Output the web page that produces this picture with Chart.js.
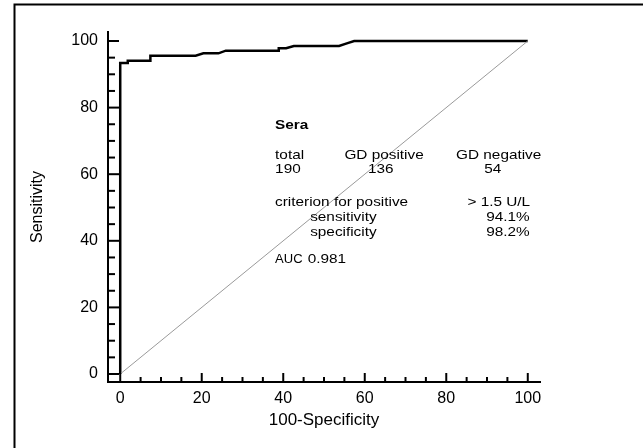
<!DOCTYPE html>
<html>
<head>
<meta charset="utf-8">
<script src="https://cdn.jsdelivr.net/npm/chart.js@4"></script>
<style>
  html, body { margin: 0; padding: 0; background: #fff; }
</style>
</head>
<body>
<canvas id="roc" width="643" height="448"></canvas>
<script>
// ================= DATA =================
// ROC curve, 100-specificity (x) vs sensitivity (y), in %
const rocX = [0, 0, 1.85, 1.85, 7.4, 7.4, 18.5, 20.4, 24.1, 25.9, 38.9, 38.9, 40.7, 42.6, 53.7, 55.6, 57.4, 100];
const rocY = [0, 93.4, 93.4, 94.1, 94.1, 95.6, 95.6, 96.3, 96.3, 97.1, 97.1, 97.8, 97.8, 98.5, 98.5, 99.3, 100, 100];

// reference diagonal
const refX = [0, 100];
const refY = [0, 100];

const tickValues = [0, 20, 40, 60, 80, 100];
const minorStep = 5;

// text block
const noteTitle = "Sera";
const noteHeader = ["total", "GD positive", "GD negative"];
const noteCounts = ["190", "136", "54"];
const criterionLabels = ["criterion for positive", "sensitivity", "specificity"];
const criterionValues = ["> 1.5 U/L", "94.1%", "98.2%"];
const aucLabel = "AUC";
const aucValue = "0.981";

// ================= PLACEMENT (data units) =================
const FONT = '"Liberation Sans", Arial, sans-serif';
const headerCols = [38, 55, 82.4];
const countCols = [38, 60.8, 89.3];
const critCols = [38, 46.6, 46.6];
const critRows = [51.6, 47.1, 42.4];

const notes = [{ t: noteTitle, x: 38, y: 74.7, bold: true }];
noteHeader.forEach((t, i) => notes.push({ t, x: headerCols[i], y: 65.7 }));
noteCounts.forEach((t, i) => notes.push({ t, x: countCols[i], y: 61.5 }));
criterionLabels.forEach((t, i) => notes.push({ t, x: critCols[i], y: critRows[i] }));
criterionValues.forEach((t, i) => notes.push({ t, x: i === 0 ? 85.2 : 89.8, y: critRows[i] }));
notes.push({ t: aucLabel, x: 38, y: 34.5, sx: 1.0 });
notes.push({ t: aucValue, x: 46, y: 34.5 });

// ================= PLUGIN =================
const moldura = {
  id: "moldura",
  beforeDraw(chart) {
    const ctx = chart.ctx;
    ctx.save();
    ctx.strokeStyle = "#000";
    ctx.lineWidth = 2;
    ctx.beginPath();
    ctx.moveTo(14.5, 460);
    ctx.lineTo(14.5, 4.5);
    ctx.lineTo(660, 4.5);
    ctx.stroke();
    ctx.restore();
  },
  afterDraw(chart) {
    const { ctx, scales: { x, y } } = chart;
    ctx.save();
    ctx.strokeStyle = "#000";
    ctx.lineWidth = 2;
    for (let v = 0; v <= 100; v += minorStep) {
      const major = tickValues.includes(v);
      const px = x.getPixelForValue(v);
      ctx.beginPath();
      ctx.moveTo(px, x.top);
      ctx.lineTo(px, x.top - (major ? 9 : 5));
      ctx.stroke();
      const py = y.getPixelForValue(v);
      ctx.beginPath();
      ctx.moveTo(y.right, py);
      ctx.lineTo(y.right + (major ? 11 : 7), py);
      ctx.stroke();
    }

    ctx.fillStyle = "#000";
    ctx.textBaseline = "middle";
    ctx.textAlign = "left";
    notes.forEach(n => {
      ctx.font = (n.bold ? "bold " : "") + "13px " + FONT;
      ctx.save();
      ctx.translate(x.getPixelForValue(n.x), y.getPixelForValue(n.y));
      ctx.scale(n.sx || 1.18, 1);
      ctx.fillText(n.t, 0, 0);
      ctx.restore();
    });
    ctx.restore();
  }
};

// ================= CHART =================
const pontos = (xs, ys) => xs.map((v, i) => ({ x: v, y: ys[i] }));

new Chart(document.getElementById("roc").getContext("2d"), {
  type: "scatter",
  data: {
    datasets: [
      {
        data: pontos(refX, refY),
        showLine: true,
        borderColor: "#9a9a9a",
        borderWidth: 1,
        pointRadius: 0
      },
      {
        data: pontos(rocX, rocY),
        showLine: true,
        borderColor: "#000",
        borderWidth: 2.5,
        borderJoinStyle: "miter",
        pointRadius: 0
      }
    ]
  },
  options: {
    responsive: false,
    animation: false,
    devicePixelRatio: 1,
    layout: { padding: { left: 0, right: 103, top: 32, bottom: 0 } },
    plugins: {
      legend: { display: false },
      tooltip: { enabled: false }
    },
    scales: {
      x: {
        type: "linear",
        min: -3,
        max: 103,
        afterBuildTicks: s => { s.ticks = tickValues.map(v => ({ value: v })); },
        afterFit: s => { s.height = 66; },
        grid: { display: false, drawTicks: false },
        border: { display: true, color: "#000", width: 2 },
        ticks: { color: "#000", padding: 7, maxRotation: 0, font: { family: FONT, size: 16 } },
        title: {
          display: true,
          text: "100-Specificity",
          color: "#000",
          font: { family: FONT, size: 17 },
          padding: { top: 0, bottom: 17 }
        }
      },
      y: {
        type: "linear",
        min: -2.4,
        max: 102.7,
        afterBuildTicks: s => { s.ticks = tickValues.map(v => ({ value: v })); },
        afterFit: s => { s.width = 108; },
        grid: { display: false, drawTicks: false },
        border: { display: true, color: "#000", width: 2 },
        ticks: { color: "#000", padding: 10, font: { family: FONT, size: 16 } },
        title: {
          display: true,
          text: "Sensitivity",
          color: "#000",
          font: { family: FONT, size: 16 },
          padding: { top: 28, bottom: 0 }
        }
      }
    }
  },
  plugins: [moldura]
});
</script>
</body>
</html>
